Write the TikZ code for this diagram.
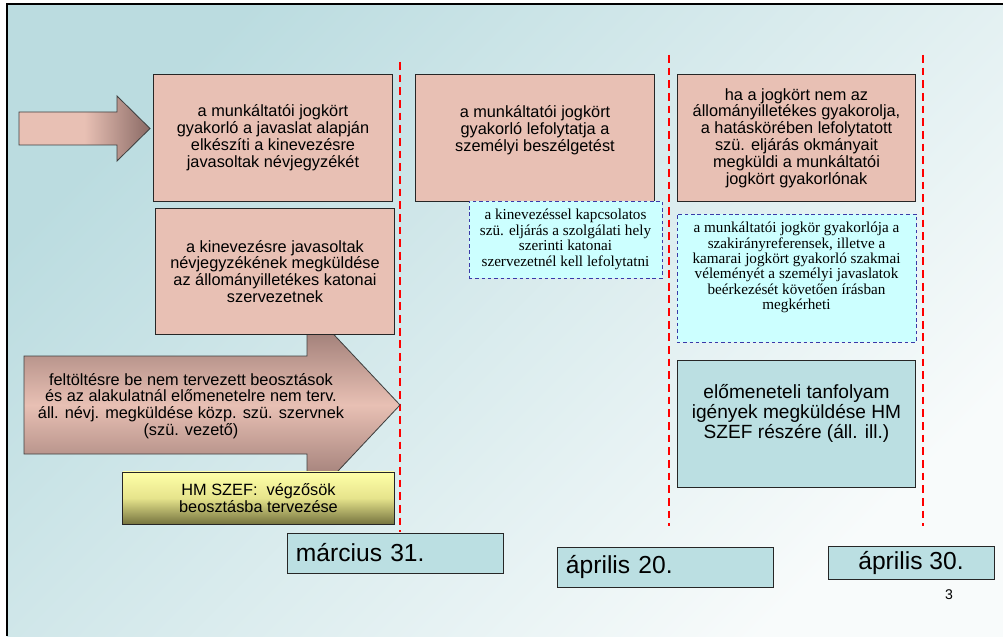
\documentclass[tikz,border=0pt]{standalone}
\usepackage{fontspec}
\setmainfont{Liberation Sans}
\newfontfamily\notefont{Liberation Serif}
\definecolor{boxpink}{HTML}{E8C0B4}
\definecolor{arrowdark}{HTML}{8A6A65}
\definecolor{notecyan}{HTML}{CCFFFF}
\definecolor{noteblue}{HTML}{3A3AA8}
\definecolor{planteal}{HTML}{BBDFE2}
\definecolor{bgtop}{HTML}{BBDCE0}
\definecolor{bgbot}{HTML}{F8FBFB}
\definecolor{hmtop}{HTML}{FFFFA8}
\definecolor{hmmid}{HTML}{E6E48C}
\definecolor{hmbot}{HTML}{76743F}
% text set higher than the middle of its box
\newcommand{\lift}[2]{\raisebox{#1}[\height][\depth]{\begin{tabular}{@{}c@{}}#2\end{tabular}}}

\begin{document}
\begin{tikzpicture}[x=0.025cm, y=-0.025cm,
  font=\fontsize{11.6}{12}\selectfont,
  box/.style={draw=black!85, line width=0.7pt, fill=boxpink, align=center,
              minimum width=5.95cm, minimum height=3.15cm, inner sep=2pt},
  note/.style={draw=noteblue, line width=0.6pt, dash pattern=on 2.5pt off 2pt, fill=notecyan,
               align=center, inner sep=2pt, font=\notefont\fontsize{10.8}{11}\selectfont},
  plan/.style={box, fill=planteal, font=\fontsize{13.6}{14.2}\selectfont},
  hm/.style={draw=black!85, line width=0.7pt, align=center, minimum width=6.775cm,
             minimum height=1.3cm, top color=hmtop, bottom color=hmbot, middle color=hmmid},
  date/.style={draw=black!85, line width=0.7pt, fill=planteal, font=\fontsize{17.5}{20}\selectfont},
  datel/.style={date, minimum height=1cm, inner xsep=0.2cm, text width=4.975cm, align=left},
  limit/.style={red, line width=1.8pt, dash pattern=on 5.5pt off 3.5pt},
  arr/.style={draw=black!75, line width=0.6pt},
]
  \useasboundingbox (0,0) rectangle (1003,636);
  \shade[top color=bgtop, bottom color=bgbot, shading angle=45] (7,4) rectangle (1003,636);
  \draw[line width=1.4pt] (7,636) -- (7,4) -- (1003,4);

  \draw[limit] (400,62) -- (400,532);
  \draw[limit] (669,55) -- (669,526);
  \draw[limit] (923,55) -- (923,526);

  % arrows
  \shade[arr, left color=boxpink, right color=arrowdark, middle color=boxpink]
    (19,112) -- (117,112) -- (117,96) -- (150,128.5) -- (117,161) -- (117,145) -- (19,145) -- cycle;
  \shade[arr, top color=arrowdark, bottom color=arrowdark, middle color=boxpink]
    (24,356) -- (307,356) -- (307,306) -- (400,405) -- (307,504) -- (307,454) -- (24,454) -- cycle;

  \node[box] (a) at (273,138) {a munkáltatói jogkört\\gyakorló a javaslat alapján\\elkészíti a kinevezésre\\javasoltak névjegyzékét};
  \node[box] (b) at (275,271.5) {a kinevezésre javasoltak\\névjegyzékének megküldése\\az állományilletékes katonai\\szervezetnek};
  \node[box] (c) at (535,138) {\lift{5pt}{a munkáltatói jogkört\\gyakorló lefolytatja a\\személyi beszélgetést}};
  \node[box] (d) at (796.5,138) {ha a jogkört nem az\\állományilletékes gyakorolja,\\a hatáskörében lefolytatott\\szü. eljárás okmányait\\megküldi a munkáltatói\\jogkört gyakorlónak};

  \node[note, minimum width=4.825cm, minimum height=1.925cm] (e) at (565.5,239.5) {a kinevezéssel kapcsolatos\\szü. eljárás a szolgálati hely\\szerinti katonai\\szervezetnél kell lefolytatni};
  \node[note, minimum width=5.975cm, minimum height=3.2cm] (f) at (796.5,278) {\lift{7pt}{a munkáltatói jogkör gyakorlója a\\szakirányreferensek, illetve a\\kamarai jogkört gyakorló szakmai\\véleményét a személyi javaslatok\\beérkezését követően írásban\\megkérheti}};
  \node[plan] (g) at (796.5,424) {\lift{7pt}{előmeneteli tanfolyam\\igények megküldése HM\\SZEF részére (áll. ill.)}};

  \node[align=center] (h) at (191,406) {feltöltésre be nem tervezett beosztások\\és az alakulatnál előmenetelre nem terv.\\áll. névj. megküldése közp. szü. szervnek\\(szü. vezető)};
  \node[hm] (i) at (258.5,498) {HM SZEF:\ \ végzősök\\beosztásba tervezése};

  \node[datel] (j) at (395.5,553) {március 31.};
  \node[datel] (k) at (665.5,567) {április 20.};
  \node[date, minimum width=4.15cm, minimum height=0.8cm] (l) at (911,563) {április 30.};
  \node[font=\fontsize{10}{12}\selectfont] (m) at (949,595) {3};
\end{tikzpicture}
\end{document}
